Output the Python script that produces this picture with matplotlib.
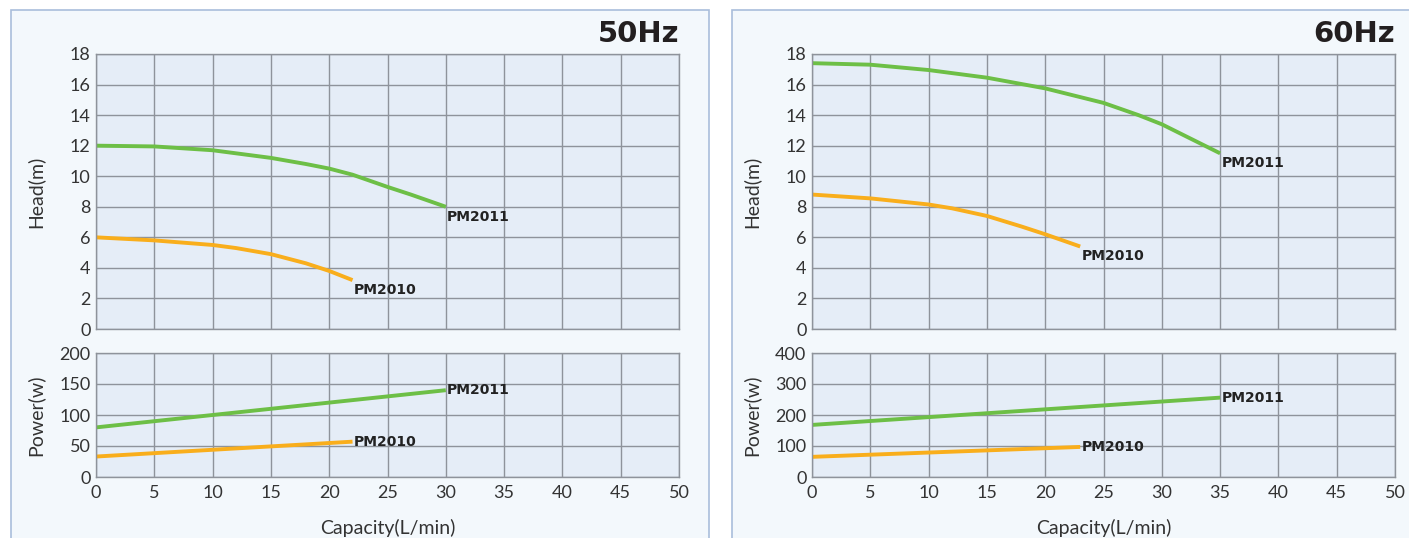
import matplotlib.pyplot as plt
from matplotlib.patches import Rectangle

# 揚程・消費電力カーブ (50Hz / 60Hz)
capacity_ticks = [0, 5, 10, 15, 20, 25, 30, 35, 40, 45, 50]

# 50Hz
q_2011_50 = [0, 5, 10, 15, 18, 20, 22, 25, 27, 30]
h_2011_50 = [12.0, 11.95, 11.7, 11.2, 10.8, 10.5, 10.1, 9.3, 8.8, 8.0]
q_2010_50 = [0, 5, 10, 12, 15, 18, 20, 22]
h_2010_50 = [6.0, 5.8, 5.5, 5.3, 4.9, 4.3, 3.8, 3.2]
pq_2011_50 = [0, 30]
p_2011_50 = [80, 140]
pq_2010_50 = [0, 22]
p_2010_50 = [33, 57]

# 60Hz
q_2011_60 = [0, 5, 10, 15, 20, 25, 28, 30, 35]
h_2011_60 = [17.4, 17.3, 16.95, 16.45, 15.75, 14.8, 14.0, 13.4, 11.5]
q_2010_60 = [0, 5, 10, 12, 15, 18, 20, 23]
h_2010_60 = [8.8, 8.55, 8.15, 7.9, 7.4, 6.7, 6.2, 5.4]
pq_2011_60 = [0, 35]
p_2011_60 = [168, 256]
pq_2010_60 = [0, 23]
p_2010_60 = [65, 97]

GREEN = "#6dbf46"
ORANGE = "#f9ae1c"
GRID = "#8e939b"
FACE = "#e5edf7"
PANEL = "#f3f8fc"
TXT = "#333333"

plt.rcParams['font.family'] = ['Lato', 'DejaVu Sans']

fig = plt.figure(figsize=(14.09, 5.38), dpi=100)
fig.patch.set_facecolor("white")

W, H = 1409, 538


def box(x0, y0, x1, y1):
    return [x0 / W, (H - y1) / H, (x1 - x0) / W, (y1 - y0) / H]


# 外枠
for px0, px1 in [(11, 709), (732, 1420)]:
    fig.patches.append(Rectangle((px0 / W, -0.01), (px1 - px0) / W, (H - 10) / H + 0.01,
                                 transform=fig.transFigure, facecolor=PANEL,
                                 edgecolor="#a9bedb", linewidth=1.2, zorder=-10))


def style(ax, ymax, ystep):
    ax.set_facecolor(FACE)
    ax.set_xlim(0, 50)
    ax.set_ylim(0, ymax)
    ax.set_xticks(capacity_ticks)
    ax.set_yticks(range(0, ymax + 1, ystep))
    ax.grid(True, color=GRID, linewidth=1.0)
    ax.set_axisbelow(True)
    for s in ax.spines.values():
        s.set_color(GRID)
        s.set_linewidth(1.0)
    ax.tick_params(length=0, labelsize=13, colors=TXT, pad=4)


def draw(xl, title, head, power, pmax, pstep):
    ax_h = fig.add_axes(box(xl, 54, xl + 583, 329))
    ax_p = fig.add_axes(box(xl, 353, xl + 583, 477))
    style(ax_h, 18, 2)
    style(ax_p, pmax, pstep)
    ax_h.tick_params(labelbottom=False)
    ax_p.tick_params(axis="x", pad=6)

    lbl = dict(fontsize=10, fontweight="bold", color="#222222", family="DejaVu Sans")
    for q, h, c, name in head:
        ax_h.plot(q, h, color=c, linewidth=2.8, solid_capstyle="butt")
        ax_h.annotate(name, (q[-1], h[-1]), xytext=(1, -2), textcoords="offset points",
                      ha="left", va="top", **lbl)
    for q, p, c, name in power:
        ax_p.plot(q, p, color=c, linewidth=2.8, solid_capstyle="butt")
        ax_p.annotate(name, (q[-1], p[-1]), xytext=(1, 0), textcoords="offset points",
                      ha="left", va="center", **lbl)

    ax_h.text(1.0, 1.02, title, transform=ax_h.transAxes, ha="right", va="bottom",
              fontsize=21, fontweight="bold", color="#231f20", family="DejaVu Sans")
    ax_h.set_ylabel("Head(m)", fontsize=14, color=TXT)
    ax_p.set_ylabel("Power(w)", fontsize=14, color=TXT)
    ax_p.set_xlabel("Capacity(L/min)", fontsize=14, color=TXT, labelpad=13)
    ax_h.yaxis.set_label_coords(-0.088, 0.5)
    ax_p.yaxis.set_label_coords(-0.088, 0.5)


draw(96, "50Hz",
     [(q_2011_50, h_2011_50, GREEN, "PM2011"), (q_2010_50, h_2010_50, ORANGE, "PM2010")],
     [(pq_2011_50, p_2011_50, GREEN, "PM2011"), (pq_2010_50, p_2010_50, ORANGE, "PM2010")],
     200, 50)
draw(812, "60Hz",
     [(q_2011_60, h_2011_60, GREEN, "PM2011"), (q_2010_60, h_2010_60, ORANGE, "PM2010")],
     [(pq_2011_60, p_2011_60, GREEN, "PM2011"), (pq_2010_60, p_2010_60, ORANGE, "PM2010")],
     400, 100)

fig.savefig("out.png", dpi=100)
